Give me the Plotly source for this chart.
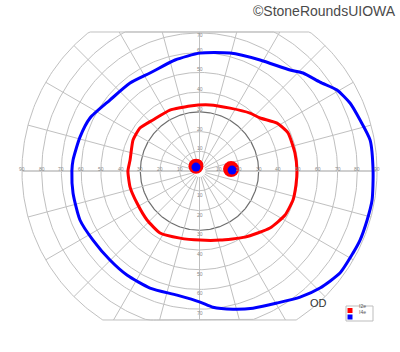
import numpy as np
import plotly.graph_objects as go

# ---- data (degrees of visual field, x = horizontal, y = vertical) ----
i2e_x = [49.4, 48.4, 44.9, 39.3, 30.7, 25.6, 15.5, 5.3, -4.8, -15.0, -23.6, -30.2, -33.7, -35.2, -36.3,
         -35.2, -31.7, -26.6, -20.0, -9.9, 0.3, 10.4, 23.1, 35.7, 43.4, 47.4, 48.9, 49.4]
i2e_y = [0.0, 9.1, 19.3, 24.3, 26.9, 29.4, 31.9, 33.5, 33.0, 30.9, 25.9, 21.8, 15.7, 5.6, 0.0,
         -8.1, -16.2, -24.8, -31.4, -34.0, -35.0, -35.0, -33.5, -28.9, -22.3, -14.7, -7.1, 0.0]

i4e_x = [88.0, 86.5, 81.4, 76.3, 69.7, 61.1, 52.5, 45.9, 30.7, 15.5, 0.3, -12.4, -25.1, -35.2, -45.4,
         -55.5, -60.6, -64.1, -64.7, -64.1, -60.6, -54.0, -45.4, -36.8, -25.1, -11.4, 0.3, 6.8, 17.0,
         27.1, 39.3, 51.0, 61.1, 71.2, 77.8, 81.4, 85.0, 87.5, 88.0]
i4e_y = [0.0, 15.7, 25.9, 34.5, 41.1, 45.1, 49.7, 51.2, 56.3, 59.8, 59.8, 56.3, 49.7, 44.6, 36.0,
         26.9, 17.2, 5.6, 0.0, -11.2, -24.8, -35.0, -45.1, -52.7, -59.3, -62.9, -66.4, -69.0, -70.0,
         -69.5, -66.9, -63.9, -59.3, -51.7, -41.6, -35.0, -24.8, -14.7, 0.0]

# scotoma spots: centre x, centre y
spot_red_x = [-1.8, -1.0, 16.0]
spot_red_y = [2.5, 3.2, 1.0]
spot_blue_x = [-1.8, 16.5]
spot_blue_y = [2.0, 0.5]

ring_radii = [10, 20, 30, 40, 50, 60, 70, 80, 90]
spoke_angles = list(range(0, 360, 15))
horiz_labels = [10, 20, 30, 40, 50, 60, 70, 80, 90]
vert_labels = [10, 20, 30, 40, 50, 60, 70]

legend_names = ["I2e", "I4e"]
legend_colors = ["#ff0000", "#0000ff"]

TOP, BOTTOM = 70.5, -75.5

fig = go.Figure()

# ---- grid ----
t = np.linspace(0, 2 * np.pi, 361)
for r in ring_radii:
    gx = r * np.cos(t)
    gy = np.clip(r * np.sin(t), BOTTOM, TOP)
    dark = (r == 30)
    fig.add_trace(go.Scatter(x=gx, y=gy, mode="lines",
                             line=dict(color="#6e6e6e" if dark else "#c0c0c0", width=1.2 if dark else 1),
                             hoverinfo="skip", showlegend=False))

for a in spoke_angles:
    th = np.deg2rad(a)
    s = np.sin(th)
    r_end = 90.0
    if s > 1e-9:
        r_end = min(90.0, TOP / s)
    elif s < -1e-9:
        r_end = min(90.0, BOTTOM / s)
    r0 = 3.0
    w = 2 if a in (0, 180) else 1
    col = "#cfcfcf" if a in (0, 180) else "#c0c0c0"
    fig.add_trace(go.Scatter(x=[r0 * np.cos(th), r_end * np.cos(th)],
                             y=[r0 * s, r_end * s], mode="lines",
                             line=dict(color=col, width=w), hoverinfo="skip", showlegend=False))

# ---- isopters ----
fig.add_trace(go.Scatter(x=i4e_x, y=i4e_y, mode="lines", name="I4e",
                         line=dict(color="#0000ff", width=3, shape="spline", smoothing=0.6),
                         showlegend=False))
fig.add_trace(go.Scatter(x=i2e_x, y=i2e_y, mode="lines", name="I2e",
                         line=dict(color="#ff0000", width=3, shape="spline", smoothing=0.5),
                         showlegend=False))

# ---- spots ----
fig.add_trace(go.Scatter(x=spot_red_x, y=spot_red_y, mode="markers", opacity=1,
                         marker=dict(color="#ff0000", size=[15, 11, 16], opacity=1, line=dict(width=0)),
                         showlegend=False))
fig.add_trace(go.Scatter(x=spot_blue_x, y=spot_blue_y, mode="markers", opacity=1,
                         marker=dict(color="#0000ff", size=[9, 9], opacity=1, line=dict(width=0)),
                         showlegend=False))

# ---- labels ----
ann = []
lab_font = dict(family="Liberation Sans", size=5, color="#8a8a8a")
for v in horiz_labels:
    for sgn in (-1, 1):
        ann.append(dict(x=sgn * v, y=0, xref="x", yref="y", text=str(v), showarrow=False,
                        font=lab_font, yshift=2.5))
for v in vert_labels:
    ann.append(dict(x=0, y=v, xref="x", yref="y", text=str(v), showarrow=False,
                    font=lab_font, yshift=3 if v < 70 else -2))
    ann.append(dict(x=0, y=-v, xref="x", yref="y", text=str(v), showarrow=False,
                    font=lab_font, yshift=-4))

W, H = 400, 352
L, R, T, B = 20, 21, 31, 31
pw, ph = W - L - R, H - T - B


def px(xp):
    return (xp - L) / pw


def py(yp):
    return (H - B - yp) / ph


ann.append(dict(x=px(398), y=py(1), xref="paper", yref="paper", xanchor="right", yanchor="top",
                text="©StoneRoundsUIOWA", showarrow=False,
                font=dict(family="Liberation Sans", size=14, color="#4a4a4a")))
ann.append(dict(x=px(329), y=py(311), xref="paper", yref="paper", text="OD", showarrow=False,
                font=dict(family="Liberation Sans", size=11, color="#333333")))

shapes = [dict(type="rect", xref="paper", yref="paper", x0=px(346), x1=px(373), y0=py(321), y1=py(306),
               line=dict(color="#bdbdbd", width=1), fillcolor="white")]
for i, (nm, c) in enumerate(zip(legend_names, legend_colors)):
    y_top = 308 + i * 6.5
    shapes.append(dict(type="rect", xref="paper", yref="paper", x0=px(347.5), x1=px(352.5),
                       y0=py(y_top + 5), y1=py(y_top), line=dict(width=0), fillcolor=c))
    ann.append(dict(x=px(357), y=py(y_top + 2.5), xref="paper", yref="paper", xanchor="left",
                    text=nm, showarrow=False, font=dict(family="Liberation Sans", size=5, color="#555")))

fig.update_layout(
    width=W, height=H, margin=dict(l=L, r=R, t=T, b=B),
    paper_bgcolor="white", plot_bgcolor="white",
    xaxis=dict(range=[-91, 91], visible=False, showgrid=False, zeroline=False),
    yaxis=dict(range=[-76, 71], visible=False, showgrid=False, zeroline=False),
    annotations=ann, shapes=shapes, showlegend=False,
)

fig.write_html("out.html")
